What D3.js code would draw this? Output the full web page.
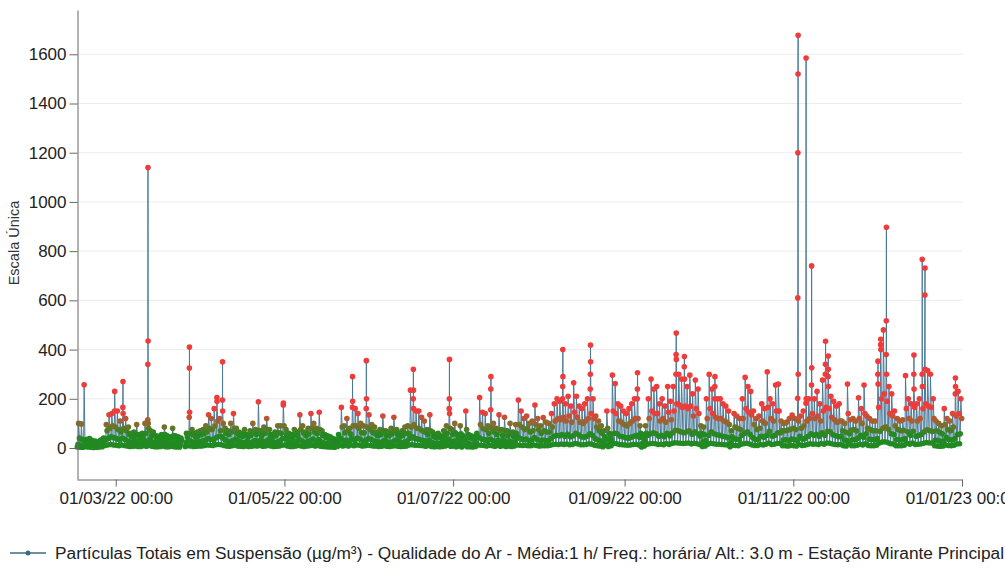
<!DOCTYPE html>
<html lang="pt">
<head>
<meta charset="UTF-8">
<title>Partículas Totais em Suspensão</title>
<script src="https://d3js.org/d3.v7.min.js"></script>
<style>
  body { margin: 0; background: #fff; font-family: "Liberation Sans", Arial, sans-serif; overflow: hidden; }
  .axis text { font-size: 17px; fill: #222; font-family: "Liberation Sans", Arial, sans-serif; }
  .axis path, .axis line { stroke: #666; }
  .grid line { stroke: #ececec; }
</style>
</head>
<body>
<div id="chart"></div>
<script>
// first day of the series: 15/02/22, one entry per day in the arrays below
const startDay = new Date(2022, 1, 15);

// daily lowest reading (around 04h)
const dailyLow = [
  4, 3, 3, 5, 4, 3, 2, 3, 4, 5,
  10, 12, 14, 12, 11, 9, 12, 10, 8, 6,
  7, 8, 6, 6, 9, 7, 10, 7, 5, 5,
  6, 8, 5, 5, 7, 5, 4, 4, null, 6,
  9, 8, 6, 7, 8, 8, 10, 12, 11, 10,
  13, 14, 13, 10, 8, 7, 9, 11, 8, 7,
  6, 8, 6, 7, 9, 8, 10, 7, 8, 10,
  8, 6, 7, 8, 11, 12, 8, 6, 6, 8,
  10, 8, 6, 8, 9, 11, 8, 10, 7, 6,
  5, 4, 4, 3, 6, 11, 8, 10, 8, 12,
  9, 12, 11, 8, 9, 11, 10, 8, 8, 6,
  7, 9, 7, 6, 8, 9, 7, 6, 7, 8,
  12, 13, 11, 11, 10, 9, 7, 10, 6, 5,
  6, 5, 6, 8, 11, 7, 8, 5, 8, 4,
  10, 5, 5, 4, 6, 12, 11, 10, 8, 11,
  9, 7, 10, 7, 9, 6, 8, 6, 8, 12,
  11, 10, 11, 9, 9, 12, 10, 8, 9, 9,
  9, 11, 14, 15, 14, 16, 14, 16, 13, 14,
  18, 16, 13, 13, 14, 17, 15, 11, 9, 8,
  5, 10, 6, 9, 18, 17, 14, 13, 12, 11,
  12, 14, 15, 12, 4, 8, 15, 17, 18, 17,
  14, 15, 13, 18, 14, 18, 21, 20, 19, 18,
  19, 20, 16, 19, 17, 14, 6, 8, 15, 19,
  17, 15, 15, 14, 13, 12, 5, 11, 10, 9,
  15, 17, 19, 16, 12, 10, 10, 14, 12, 15,
  20, 14, 15, 18, 18, 9, 9, 8, 10, 9,
  8, 14, 10, 11, 14, 17, 15, 16, 14, 18,
  15, 20, 19, 16, 14, 13, 14, 9, 8, 17,
  9, 9, 11, 15, 12, 17, 10, 9, 9, 11,
  20, 24, 25, 22, 17, 16, 9, 9, 9, 11,
  19, 15, 20, 14, 15, 16, 19, 22, 20, 20,
  9, 8, 7, 8, 12, 10, 9, 11, 16, 17
];

// morning reading (around 09h)
const dailyMid = [
  15, 12, 10, 14, 12, 10, 9, 10, 12, 14,
  35, 40, 45, 42, 38, 32, 40, 35, 28, 22,
  24, 28, 20, 22, 30, 25, 35, 24, 20, 18,
  20, 26, 18, 17, 24, 19, 17, 15, null, 22,
  30, 26, 22, 24, 26, 28, 32, 38, 35, 32,
  42, 48, 45, 35, 28, 25, 30, 36, 28, 24,
  22, 26, 20, 24, 30, 26, 32, 24, 28, 34,
  26, 20, 24, 28, 38, 40, 26, 22, 20, 26,
  34, 28, 22, 26, 30, 36, 26, 34, 24, 20,
  18, 16, 14, 13, 20, 38, 28, 32, 26, 40,
  30, 40, 36, 28, 30, 38, 34, 28, 26, 22,
  25, 32, 24, 22, 26, 32, 25, 20, 24, 28,
  40, 45, 38, 36, 32, 30, 25, 32, 22, 18,
  20, 17, 22, 28, 36, 25, 28, 18, 26, 16,
  34, 18, 16, 14, 20, 42, 36, 34, 28, 36,
  30, 25, 32, 24, 32, 22, 28, 22, 26, 42,
  38, 34, 36, 30, 32, 42, 35, 28, 32, 30,
  30, 38, 48, 52, 50, 55, 48, 56, 46, 50,
  60, 54, 46, 44, 48, 58, 52, 38, 32, 28,
  20, 36, 24, 32, 60, 58, 48, 46, 42, 40,
  44, 48, 52, 44, 18, 28, 52, 58, 62, 58,
  48, 52, 46, 60, 50, 62, 72, 70, 66, 62,
  66, 70, 56, 66, 58, 48, 26, 30, 52, 66,
  58, 54, 52, 48, 46, 42, 22, 38, 36, 34,
  52, 60, 66, 56, 42, 34, 36, 48, 44, 52,
  68, 48, 52, 62, 62, 32, 33, 30, 36, 34,
  30, 48, 36, 40, 48, 58, 52, 56, 48, 62,
  52, 68, 66, 54, 50, 46, 48, 32, 30, 58,
  33, 34, 40, 52, 44, 58, 36, 34, 32, 38,
  68, 80, 86, 76, 58, 55, 34, 32, 33, 38,
  66, 52, 68, 48, 52, 56, 66, 74, 70, 68,
  32, 30, 27, 28, 42, 34, 32, 38, 55, 58
];

// afternoon peak (around 14h)
const dailyHigh = [
  100, 98, 257, 35, 38, 30, 28, 25, 32, 40,
  95, 135, 140, 150, 150, 110, 165, 120, 85, 60,
  65, 95, 55, 60, 100, 115, 70, 65, 50, 48,
  55, 85, 50, 45, 80, 50, 45, 40, null, 60,
  125, 75, 60, 65, 70, 75, 90, 135, 120, 160,
  205, 120, 195, 80, 70, 100, 140, 80, 65, 60,
  75, 55, 70, 100, 75, 188, 70, 85, 120, 75,
  55, 65, 90, 90, 175, 75, 60, 55, 75, 65,
  135, 90, 65, 80, 140, 100, 80, 145, 70, 55,
  50, 45, 38, 35, 55, 165, 90, 120, 80, 165,
  160, 140, 100, 90, 160, 135, 95, 85, 65, 75,
  130, 70, 65, 80, 125, 75, 60, 70, 85, 90,
  235, 200, 150, 150, 125, 110, 75, 135, 65, 55,
  60, 50, 70, 90, 160, 75, 100, 55, 90, 50,
  150, 55, 50, 45, 60, 205, 145, 140, 90, 155,
  100, 80, 135, 75, 125, 70, 100, 65, 95, 195,
  150, 120, 130, 100, 110, 175, 120, 90, 124, 105,
  100, 140, 180, 200, 190, 200, 180, 210, 170, 265,
  210, 170, 160, 180, 200, 240, 200, 130, 110, 90,
  70, 150, 60, 296, 262, 180, 170, 150, 140, 160,
  180, 200, 200, 90, 55, 90, 200, 280, 240, 250,
  180, 200, 170, 250, 190, 250, 300, 300, 280, 330,
  250, 296, 220, 276, 240, 90, 85, 200, 299, 240,
  200, 200, 200, 180, 170, 150, 70, 140, 130, 120,
  200, 287, 250, 230, 150, 120, 130, 180, 160, 310,
  200, 180, 256, 260, 110, 100, 105, 120, 134, 120,
  202, 130, 150, 182, 200, 256, 200, 230, 180, 276,
  300, 290, 210, 190, 170, 180, 110, 100, 260, 115,
  120, 110, 204, 160, 256, 130, 120, 110, 110, 300,
  420, 480, 380, 250, 220, 150, 120, 110, 115, 294,
  200, 180, 300, 180, 200, 300, 622, 315, 300, 200,
  110, 100, 90, 160, 120, 110, 140, 220, 230, 200
];

// evening reading (around 21h)
const dailyEve = [
  40, 35, 30, 20, 25, 22, 18, 20, 25, 28,
  70, 80, 90, 85, 75, 65, 80, 70, 55, 45,
  48, 55, 42, 45, 60, 80, 50, 50, 40, 38,
  42, 55, 38, 36, 50, 40, 35, 32, null, 45,
  60, 55, 45, 50, 55, 58, 65, 80, 75, 90,
  110, 70, 100, 60, 55, 65, 80, 60, 50, 48,
  55, 45, 52, 65, 55, 70, 52, 60, 75, 55,
  45, 50, 62, 60, 90, 55, 48, 42, 55, 50,
  75, 62, 50, 58, 80, 65, 58, 75, 52, 44,
  40, 36, 30, 28, 42, 85, 62, 70, 58, 90,
  90, 80, 62, 62, 85, 75, 64, 58, 50, 55,
  70, 52, 50, 58, 70, 55, 46, 52, 60, 60,
  85, 95, 80, 78, 70, 65, 55, 70, 48, 42,
  45, 40, 50, 60, 80, 55, 62, 42, 58, 38,
  75, 42, 40, 36, 45, 95, 78, 75, 60, 80,
  65, 55, 72, 52, 70, 50, 62, 48, 60, 95,
  85, 75, 80, 65, 70, 95, 75, 60, 70, 65,
  65, 85, 110, 120, 115, 125, 110, 130, 105, 145,
  125, 105, 100, 110, 120, 140, 120, 85, 70, 60,
  45, 80, 50, 150, 140, 110, 105, 95, 90, 100,
  110, 120, 120, 60, 40, 60, 120, 150, 140, 140,
  110, 120, 105, 145, 115, 150, 180, 175, 165, 170,
  160, 170, 130, 160, 140, 60, 55, 120, 160, 140,
  125, 120, 120, 110, 105, 95, 45, 85, 80, 75,
  120, 160, 145, 135, 95, 75, 80, 110, 100, 165,
  120, 110, 150, 150, 70, 70, 72, 75, 80, 75,
  110, 80, 90, 110, 120, 140, 120, 130, 110, 150,
  165, 160, 125, 115, 105, 110, 70, 65, 140, 72,
  75, 70, 120, 100, 140, 80, 75, 70, 70, 165,
  200, 220, 190, 140, 130, 90, 75, 70, 72, 160,
  120, 110, 165, 110, 120, 160, 180, 170, 165, 120,
  70, 65, 58, 95, 75, 70, 85, 130, 140, 120
];

// short episodes: extra hourly readings after the afternoon peak of these days
const spikeDays = [13, 16, 25, 40, 50, 52, 74, 99, 104, 121, 134, 149, 175, 185, 202,
  216, 219, 230, 260, 263, 265, 270, 271, 289, 290, 292, 302, 305, 306, 317];
const spikeValues = [
  [230], [270, 140], [340, 1140, 435, 100], [325, 410, 145], [190], [350, 150], [183],
  [290, 190], [355, 200], [320, 235, 160], [200, 360, 140], [240, 290], [250, 400, 290],
  [300, 418, 350], [240, 306], [380, 467, 360], [372, 280], [250, 290],
  [610, 1200, 1520, 1677, 300], [1585, 200], [740, 326], [340, 434], [374, 320, 250],
  [353, 260], [442, 400], [517, 897, 300], [378, 240], [767, 250], [731, 320], [284, 250]
];

const yTicks = [0, 200, 400, 600, 800, 1000, 1200, 1400, 1600];
const xTicks = [new Date(2022, 2, 1), new Date(2022, 4, 1), new Date(2022, 6, 1),
  new Date(2022, 8, 1), new Date(2022, 10, 1), new Date(2023, 0, 1)];
const legendLabel = "Partículas Totais em Suspensão (µg/m³) - Qualidade do Ar - Média:1 h/ Freq.: horária/ Alt.: 3.0 m - Estação Mirante Principal";

// build hourly-ish series
const at = (day, hour) => new Date(startDay.getFullYear(), startDay.getMonth(), startDay.getDate() + day, hour);
const series = [];
dailyHigh.forEach((h, d) => {
  series.push({ t: at(d, 3), v: dailyLow[d] });
  series.push({ t: at(d, 9), v: dailyMid[d] });
  series.push({ t: at(d, 14), v: h });
  const k = spikeDays.indexOf(d);
  if (k >= 0) spikeValues[k].forEach((v, i) => series.push({ t: at(d, 15 + i), v }));
  series.push({ t: at(d, 21), v: dailyEve[d] });
});

const W = 1005, H = 569;
const svg = d3.select("#chart").append("svg").attr("width", W).attr("height", H);

const x = d3.scaleTime().domain([startDay, new Date(2023, 0, 1)]).range([77, 962]);
const y = d3.scaleLinear().domain([-126, 1780]).range([479, 10]);

const color = d3.scaleLinear()
  .domain([55, 100, 145])
  .range(["#218a21", "#8e6a2c", "#f03b3b"])
  .clamp(true);

// grid
svg.append("g").attr("class", "grid")
  .selectAll("line").data(yTicks).join("line")
  .attr("x1", 78).attr("x2", 962)
  .attr("y1", d => y(d)).attr("y2", d => y(d));

// series line
const line = d3.line().defined(d => d.v != null).x(d => x(d.t)).y(d => y(d.v));
svg.append("path").datum(series)
  .attr("fill", "none").attr("stroke", "#4a7a98").attr("stroke-width", 1)
  .attr("d", line);

// markers
svg.append("g").selectAll("circle").data(series.filter(d => d.v != null)).join("circle")
  .attr("cx", d => x(d.t)).attr("cy", d => y(d.v)).attr("r", 2.8)
  .attr("fill", d => color(d.v));

// axes
svg.append("g").attr("class", "axis")
  .attr("transform", "translate(77.5,0)")
  .call(d3.axisLeft(y).tickValues(yTicks).tickSize(8).tickSizeOuter(0).tickPadding(3)
    .tickFormat(d3.format("d")));

svg.append("g").attr("class", "axis")
  .attr("transform", "translate(0,479.5)")
  .call(d3.axisBottom(x).tickValues(xTicks).tickSize(7).tickSizeOuter(0).tickPadding(5)
    .tickFormat(d3.timeFormat("%d/%m/%y %H:%M")));

svg.append("text")
  .attr("transform", "translate(19,243) rotate(-90)")
  .attr("text-anchor", "middle")
  .style("font-size", "14.5px").style("fill", "#333")
  .text("Escala Única");

// legend
const lg = svg.append("g").attr("transform", "translate(0,553)");
lg.append("line").attr("x1", 10).attr("x2", 46).attr("y1", 0).attr("y2", 0)
  .attr("stroke", "#3d6b86").attr("stroke-width", 1.3);
lg.append("circle").attr("cx", 28).attr("cy", 0).attr("r", 2.5).attr("fill", "#3d6b86");
lg.append("text").attr("x", 55).attr("y", 6)
  .style("font-size", "17.3px").style("fill", "#222")
  .text(legendLabel);
</script>
</body>
</html>
